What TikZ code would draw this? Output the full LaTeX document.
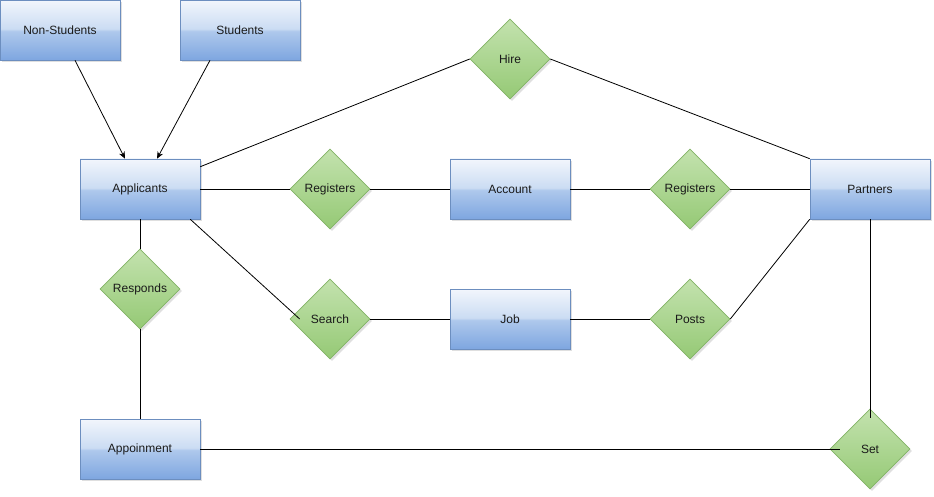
\documentclass[tikz,border=0pt]{standalone}
\usepackage{fontspec}
\setmainfont{Liberation Sans}
\usetikzlibrary{shapes.geometric,shadows,arrows.meta}
\definecolor{boxtop}{HTML}{F2F6FC}
\definecolor{boxmidA}{HTML}{CBDCF3}
\definecolor{boxmidB}{HTML}{AEC8EC}
\definecolor{boxbot}{HTML}{7EA6E0}
\definecolor{boxline}{HTML}{6C8EBF}
\definecolor{dtop}{HTML}{C3E2AE}
\definecolor{dbot}{HTML}{95C975}
\definecolor{dline}{HTML}{82B366}
\definecolor{txt}{HTML}{1A1A1A}
\pgfdeclareverticalshading{glassbox}{100bp}{color(0bp)=(boxbot); color(25bp)=(boxbot); color(49bp)=(boxmidB); color(51bp)=(boxmidA); color(75bp)=(boxtop); color(100bp)=(boxtop)}
\begin{document}
\begin{tikzpicture}[x=1pt,y=-1pt,
  every node/.style={font=\fontsize{12}{14}\selectfont, text=txt},
  entity/.style={rectangle, draw=boxline, line width=0.6pt, shading=glassbox,
    minimum width=120pt, minimum height=60pt, inner sep=0pt,
    drop shadow={shadow xshift=2pt, shadow yshift=-2pt, opacity=0.25, fill=gray}},
  relation/.style={diamond, draw=dline, line width=0.6pt, top color=dtop, bottom color=dbot,
    minimum width=80pt, minimum height=80pt, inner sep=0pt, aspect=1,
    drop shadow={shadow xshift=2pt, shadow yshift=-2pt, opacity=0.25, fill=gray}},
  link/.style={draw=black, line width=0.8pt},
  arr/.style={link, -{Stealth[length=7pt,width=6pt]}}]
\useasboundingbox (0,0) rectangle (934,497);
\node[entity] (ns) at (60,30) {Non-Students};
\node[entity] (st) at (240,30) {Students};
\node[entity] (app) at (140,189) {Applicants};
\node[entity] (acc) at (510,189) {Account};
\node[entity] (par) at (870,189) {Partners};
\node[entity] (job) at (510,319) {Job};
\node[entity] (apm) at (140,449) {Appoinment};
\node[relation] (hire) at (510,59) {Hire};
\node[relation] (reg1) at (330,189) {Registers};
\node[relation] (reg2) at (690,189) {Registers};
\node[relation] (resp) at (140,289) {Responds};
\node[relation] (srch) at (330,319) {Search};
\node[relation] (post) at (690,319) {Posts};
\node[relation] (set) at (870,449) {Set};
\draw[arr] ([xshift=15pt]ns.south) -- ([xshift=-15pt]app.north);
\draw[arr] ([xshift=-30pt]st.south) -- ([xshift=17pt]app.north);
\draw[link] ([yshift=-8pt]app.north east) -- (hire.west);
\draw[link] (hire.east) -- (par.north west);
\draw[link] (app.east) -- (reg1.west);
\draw[link] (reg1.east) -- (acc.west);
\draw[link] (acc.east) -- (reg2.west);
\draw[link] (reg2.east) -- (par.west);
\draw[link] ([xshift=-10pt]app.south east) -- ([xshift=10pt]srch.west);
\draw[link] (srch.east) -- (job.west);
\draw[link] (job.east) -- (post.west);
\draw[link] (post.east) -- (par.south west);
\draw[link] (app.south) -- (resp.north);
\draw[link] (resp.south) -- (apm.north);
\draw[link] (apm.east) -- ([xshift=10pt]set.west);
\draw[link] (par.south) -- ([yshift=-9pt]set.north);
\end{tikzpicture}
\end{document}
